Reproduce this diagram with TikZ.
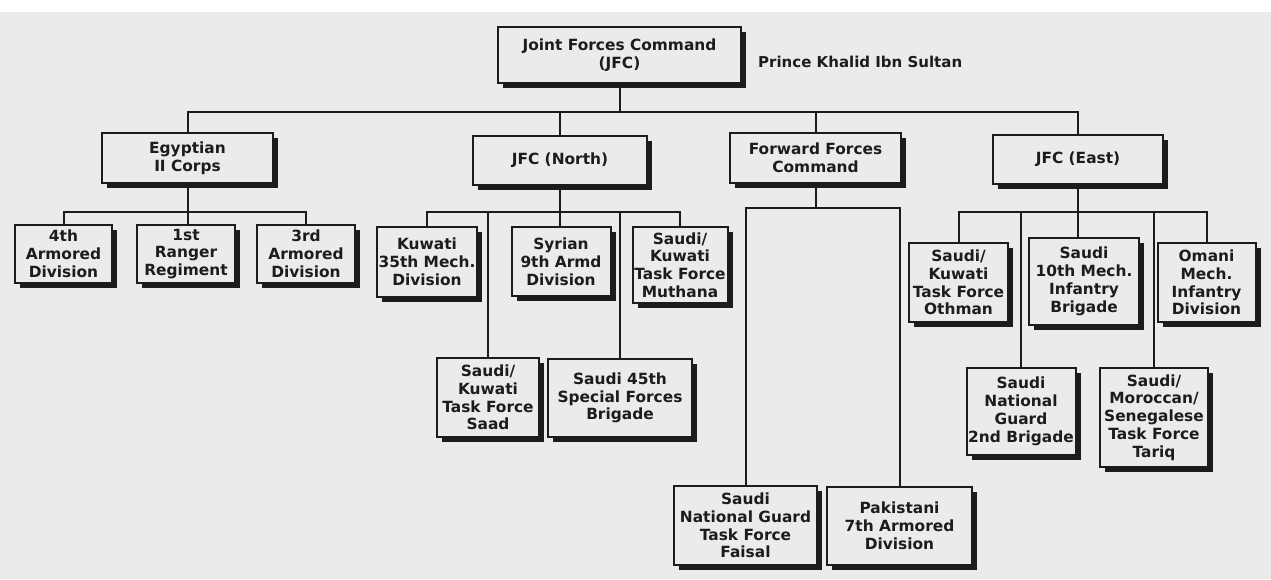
\documentclass[tikz,border=0pt]{standalone}
\usepackage{fontspec}
\setmainfont{DejaVu Sans}
\usepackage{tikz}
\usetikzlibrary{shadows}

\definecolor{paper}{HTML}{EBEBEB}
\definecolor{ink}{HTML}{1C1C1C}

\tikzset{
    unit/.style={draw=ink, line width=2pt, fill=paper, align=center, inner sep=0pt,
        font=\bfseries\fontsize{15.4}{17.8}\selectfont, text=ink,
        general shadow={fill=ink, shadow xshift=5pt, shadow yshift=-5pt}},
    link/.style={draw=ink, line width=2pt, line join=miter},
}

\begin{document}
\begin{tikzpicture}[x=1pt, y=-1pt]
    % Paper
    \fill[white] (0,0) rectangle (1271,12);
    \fill[paper] (0,12) rectangle (1271,579);
    \useasboundingbox (0,0) rectangle (1271,579);

    % Bus heights
    \coordinate (topbus) at (0,112);
    \coordinate (subbus) at (0,212);
    \coordinate (ffcbar) at (0,208);

    % Top command
    \node[unit, minimum width=243pt, minimum height=56pt] (jfc) at (619.5,55) {Joint Forces Command\\(JFC)};
    \node[anchor=west, font=\bfseries\fontsize{15}{17.8}\selectfont, text=ink, inner sep=0pt] (khalid) at (758,62) {Prince Khalid Ibn Sultan};

    % Second level
    \node[unit, minimum width=171pt, minimum height=50pt] (egypt) at (187.5,158) {Egyptian\\II Corps};
    \node[unit, minimum width=174pt, minimum height=49pt] (north) at (560,160.5) {JFC (North)};
    \node[unit, minimum width=171pt, minimum height=50pt] (ffc) at (815.5,158) {Forward Forces\\Command};
    \node[unit, minimum width=170pt, minimum height=49pt] (east) at (1078,159.5) {JFC (East)};

    % Egyptian II Corps units
    \node[unit, minimum width=97pt, minimum height=58pt] (arm4) at (63.5,254) {4th\\Armored\\Division};
    \node[unit, minimum width=98pt, minimum height=58pt] (rgr1) at (186,254) {1st\\Ranger\\Regiment};
    \node[unit, minimum width=98pt, minimum height=58pt] (arm3) at (306,254) {3rd\\Armored\\Division};

    % JFC (North) units
    \node[unit, minimum width=100pt, minimum height=70pt] (kuw35) at (427,262) {Kuwati\\35th Mech.\\Division};
    \node[unit, minimum width=99pt, minimum height=69pt] (syr9) at (561,261.5) {Syrian\\9th Armd\\Division};
    \node[unit, minimum width=95pt, minimum height=76pt] (muth) at (680,265) {Saudi/\\Kuwati\\Task Force\\Muthana};
    \node[unit, minimum width=102pt, minimum height=79pt] (saad) at (488,397.5) {Saudi/\\Kuwati\\Task Force\\Saad};
    \node[unit, minimum width=144pt, minimum height=78pt] (sf45) at (620,398) {Saudi 45th\\Special Forces\\Brigade};

    % Forward Forces Command units
    \node[unit, minimum width=143pt, minimum height=79pt] (faisal) at (745.5,525.5) {Saudi\\National Guard\\Task Force\\Faisal};
    \node[unit, minimum width=145pt, minimum height=78pt] (pak7) at (899.5,526) {Pakistani\\7th Armored\\Division};

    % JFC (East) units
    \node[unit, minimum width=99pt, minimum height=79pt] (othman) at (958.5,282.5) {Saudi/\\Kuwati\\Task Force\\Othman};
    \node[unit, minimum width=110pt, minimum height=87pt] (mech10) at (1084,281.5) {Saudi\\10th Mech.\\Infantry\\Brigade};
    \node[unit, minimum width=98pt, minimum height=79pt] (oman) at (1206.5,282.5) {Omani\\Mech.\\Infantry\\Division};
    \node[unit, minimum width=109pt, minimum height=87pt] (sang2) at (1021,411.5) {Saudi\\National\\Guard\\2nd Brigade};
    \node[unit, minimum width=108pt, minimum height=99pt] (tariq) at (1154,417.5) {Saudi/\\Moroccan/\\Senegalese\\Task Force\\Tariq};

    % Top bus
    \draw[link] (jfc.south) -- (jfc.south |- topbus);
    \draw[link] (egypt.north) |- (east.north |- topbus) -- (east.north);
    \draw[link] (north.north) -- (north.north |- topbus);
    \draw[link] (ffc.north) -- (ffc.north |- topbus);

    % Egyptian bus
    \draw[link] (egypt.south) -- (egypt.south |- rgr1.north);
    \draw[link] (arm4.north) |- (arm3.north |- subbus) -- (arm3.north);

    % North bus
    \draw[link] (north.south) -- (north.south |- syr9.north);
    \draw[link] (kuw35.north) |- (muth.north |- subbus) -- (muth.north);
    \draw[link] (saad.north) -- (saad.north |- subbus);
    \draw[link] (sf45.north) -- (sf45.north |- subbus);

    % Forward bar
    \draw[link] (ffc.south) -- (ffc.south |- ffcbar);
    \draw[link] (faisal.north) |- (pak7.north |- ffcbar) -- (pak7.north);

    % East bus
    \draw[link] (east.south) -- (east.south |- mech10.north);
    \draw[link] (othman.north) |- (oman.north |- subbus) -- (oman.north);
    \draw[link] (sang2.north) -- (sang2.north |- subbus);
    \draw[link] (tariq.north) -- (tariq.north |- subbus);
\end{tikzpicture}
\end{document}
